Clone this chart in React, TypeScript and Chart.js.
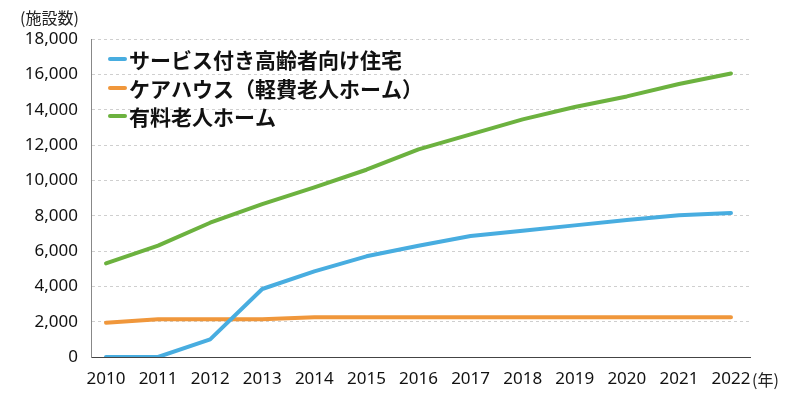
import { useEffect, useRef } from 'react';
import { Chart, registerables } from 'chart.js';

Chart.register(...registerables);

const years = [2010, 2011, 2012, 2013, 2014, 2015, 2016, 2017, 2018, 2019, 2020, 2021, 2022];
const seriesNames = ['サービス付き高齢者向け住宅', 'ケアハウス（軽費老人ホーム）', '有料老人ホーム'];
const sakoju = [0, 0, 1000, 3850, 4850, 5700, 6300, 6850, 7150, 7450, 7750, 8020, 8150];
const careHouse = [1940, 2130, 2130, 2130, 2250, 2250, 2250, 2250, 2250, 2250, 2250, 2250, 2250];
const yuryo = [5300, 6300, 7600, 8650, 9600, 10600, 11750, 12600, 13450, 14150, 14750, 15450, 16050];
const seriesColors = ['#48ADE0', '#F0973B', '#6CB23F'];
const yTickValues = [0, 2000, 4000, 6000, 8000, 10000, 12000, 14000, 16000, 18000];
const yUnit = '(施設数)';
const xUnit = '(年)';

const NUM_FONT = '"Noto Sans", sans-serif';
const JP_FONT = '"Noto Sans CJK JP", sans-serif';

const overlayPlugin = {
  id: 'overlay',
  afterDraw(chart: any) {
    const { ctx, chartArea } = chart;
    ctx.save();
    // unit labels
    ctx.fillStyle = '#222';
    ctx.font = `16px ${JP_FONT}`;
    ctx.textBaseline = 'middle';
    ctx.textAlign = 'left';
    ctx.fillText(yUnit, 20, 18);
    ctx.fillText(xUnit, chartArea.right + 2, 380);
    // legend
    const rows = [chartArea.top + 20, chartArea.top + 49, chartArea.top + 77];
    const lx = chartArea.left + 19;
    ctx.font = `bold 21px ${JP_FONT}`;
    chart.data.datasets.forEach((ds: any, i: number) => {
      const y = rows[i];
      ctx.strokeStyle = ds.borderColor;
      ctx.lineWidth = 4;
      ctx.lineCap = 'round';
      ctx.beginPath();
      ctx.moveTo(lx, y);
      ctx.lineTo(lx + 15, y);
      ctx.stroke();
      ctx.fillStyle = '#111';
      ctx.fillText(ds.label, lx + 19, y + 1);
    });
    ctx.restore();
  },
};

export default function App() {
  const ref = useRef<HTMLCanvasElement>(null);
  useEffect(() => {
    document.body.style.margin = '0';
    const mk = (vals: number[]) => years.map((x, i) => ({ x, y: vals[i] }));
    const datasets = [sakoju, careHouse, yuryo].map((vals, i) => ({
      label: seriesNames[i],
      data: mk(vals),
      borderColor: seriesColors[i],
      backgroundColor: seriesColors[i],
      borderWidth: 4,
      pointRadius: 0,
      tension: 0,
      borderCapStyle: 'round' as const,
      borderJoinStyle: 'round' as const,
    }));
    const chart = new Chart(ref.current!, {
      type: 'line',
      data: { datasets },
      options: {
        animation: false,
        responsive: false,
        maintainAspectRatio: false,
        layout: { padding: { top: 39, right: 50, left: 0, bottom: 0 } },
        plugins: { legend: { display: false }, tooltip: { enabled: false }, title: { display: false } },
        scales: {
          x: {
            type: 'linear',
            min: 2009.712,
            max: 2022.365,
            afterFit: (s: any) => { s.height = 41; },
            grid: { display: false, drawTicks: false },
            border: { display: true, color: '#444', width: 1 },
            ticks: {
              stepSize: 1,
              includeBounds: false,
              autoSkip: false,
              maxRotation: 0,
              padding: 12,
              color: '#111',
              font: { family: NUM_FONT, size: 17 },
              callback: (v: any) => String(v),
            },
          },
          y: {
            type: 'linear',
            min: 0,
            max: 18000,
            afterFit: (s: any) => { s.width = 91; },
            afterBuildTicks: (s: any) => { s.ticks = yTickValues.map((v) => ({ value: v })); },
            grid: { color: '#cfcfcf', drawTicks: false, lineWidth: 1 },
            border: { display: true, color: '#888', width: 1, dash: [3, 3] },
            ticks: {
              padding: 13,
              color: '#111',
              font: { family: NUM_FONT, size: 17 },
              callback: (v: any) => Number(v).toLocaleString('en-US'),
            },
          },
        },
      },
      plugins: [overlayPlugin],
    });
    return () => chart.destroy();
  }, []);
  return (
    <div style={{ width: 800, height: 398 }}>
      <canvas ref={ref} width={800} height={398} style={{ display: 'block' }} />
    </div>
  );
}
